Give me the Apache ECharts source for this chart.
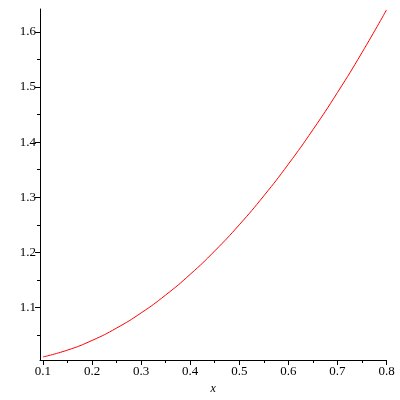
<!DOCTYPE html>
<html>
<head>
<meta charset="utf-8">
<script src="https://cdn.jsdelivr.net/npm/echarts@6/dist/echarts.min.js"></script>
<style>html,body{margin:0;padding:0;background:#fff}#c{width:400px;height:400px}</style>
</head>
<body>
<div id="c"></div>
<script>
var xValues = [0.1, 0.15, 0.2, 0.25, 0.3, 0.35, 0.4, 0.45, 0.5, 0.55, 0.6, 0.65, 0.7, 0.75, 0.8];
var yValues = [1.01, 1.0225, 1.04, 1.0625, 1.09, 1.1225, 1.16, 1.2025, 1.25, 1.3025, 1.36, 1.4225, 1.49, 1.5625, 1.64];
var xTickLabels = [0.1, 0.2, 0.3, 0.4, 0.5, 0.6, 0.7, 0.8];
var xMinorTicks = [0.15, 0.25, 0.35, 0.45, 0.55, 0.65, 0.75];
var yTickLabels = [1.1, 1.2, 1.3, 1.4, 1.5, 1.6];
var yMinorTicks = [1.05, 1.15, 1.25, 1.35, 1.45, 1.55];
var xName = 'x';

var X_MIN = 0.0939, X_MAX = 0.8, Y_MIN = 1.0045, Y_MAX = 1.6417;
var font = 'Liberation Serif';
var pts = xValues.map(function(v, i){ return [v, yValues[i]]; });

function xAxisDef(major, show) {
  return {
    type: 'value', min: X_MIN, max: X_MAX, position: 'bottom',
    name: show ? xName : '', nameLocation: 'middle', nameGap: 23,
    nameTextStyle: {fontFamily: font, fontStyle: 'italic', fontSize: 12, color: '#000'},
    axisLine: {show: show, onZero: false, lineStyle: {color: '#000', width: 1}},
    axisTick: {show: true, inside: false, length: major ? 5 : 3, customValues: major ? xTickLabels : xMinorTicks, lineStyle: {color: '#000'}},
    axisLabel: {show: major, customValues: xTickLabels, margin: 5, fontFamily: font, fontSize: 13, color: '#000', formatter: function(v){ return String(v); }},
    splitLine: {show: false}
  };
}
function yAxisDef(major, show) {
  return {
    type: 'value', min: Y_MIN, max: Y_MAX, position: 'left',
    axisLine: {show: show, onZero: false, lineStyle: {color: '#000', width: 1}},
    axisTick: {show: true, inside: false, length: major ? 5 : 3, customValues: major ? yTickLabels : yMinorTicks, lineStyle: {color: '#000'}},
    axisLabel: {show: major, customValues: yTickLabels, margin: 4, fontFamily: font, fontSize: 13, color: '#000', formatter: function(v){ return String(v); }},
    splitLine: {show: false}
  };
}

var chart = echarts.init(document.getElementById('c'), null, {renderer: 'canvas'});
chart.setOption({
  animation: false,
  backgroundColor: '#fff',
  grid: {left: 40, right: 13.5, top: 9, bottom: 40, containLabel: false},
  xAxis: [xAxisDef(true, true), xAxisDef(false, false)],
  yAxis: [yAxisDef(true, true), yAxisDef(false, false)],
  series: [{
    type: 'line', xAxisIndex: 0, yAxisIndex: 0, data: pts, smooth: true,
    showSymbol: false, lineStyle: {color: '#ff0000', width: 1}, z: 3
  }]
});
</script>
</body>
</html>
